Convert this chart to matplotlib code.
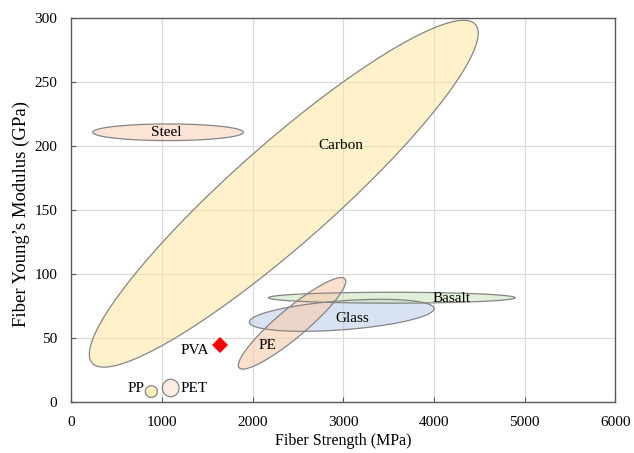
import numpy as np
import matplotlib.pyplot as plt
from matplotlib.patches import Polygon

plt.rcParams['font.family'] = ['Liberation Serif', 'DejaVu Serif']

# ---- data ----
materials     = ["Carbon", "Steel", "Glass", "Basalt", "PE", "PP", "PET"]
strength_min  = [200, 237, 1964, 2174, 1843, 817, 1005]      # MPa
strength_max  = [4487, 1898, 4001, 4895, 3027, 950, 1189]
modulus_min   = [27, 204, 55, 77, 25.5, 3.4, 3.9]            # GPa
modulus_max   = [298, 217, 80, 85.5, 97, 12.5, 17.5]
correlation   = [0.925, 0.0, 0.42, 0.0, 0.915, 0.0, 0.0]

label_x = [2976, 1053, 3097, 4197, 2160, 716, 1357]
label_y = [200.5, 210, 65.4, 81, 44.3, 10, 10.7]

pva_strength = [1641]
pva_modulus = [44.5]
pva_label_xy = (1357, 40.4)

x_ticks = [0, 1000, 2000, 3000, 4000, 5000, 6000]
y_ticks = [0, 50, 100, 150, 200, 250, 300]

# ---- styles ----
face_colors = ['#FFE699', '#F8CBAD', '#B4C7E7', '#C5E0B4', '#F8CBAD', '#FFE699', '#F8CBAD']
face_alpha  = [0.5, 0.5, 0.5, 0.5, 0.6, 0.6, 0.35]
edge_color = '#858585'

fig = plt.figure(figsize=(6.34, 4.53), dpi=100)
ax = fig.add_axes([0.1123, 0.1132, 0.9707 - 0.1123, 0.9609 - 0.1132])
ax.set_xlim(0, 6000)
ax.set_ylim(0, 300)

t = np.linspace(0, 2 * np.pi, 400)
for i, name in enumerate(materials):
    cx = (strength_min[i] + strength_max[i]) / 2
    cy = (modulus_min[i] + modulus_max[i]) / 2
    hx = (strength_max[i] - strength_min[i]) / 2
    hy = (modulus_max[i] - modulus_min[i]) / 2
    phi = np.arccos(correlation[i])
    xs = cx + hx * np.cos(t)
    ys = cy + hy * np.cos(t - phi)
    ax.add_patch(Polygon(np.column_stack([xs, ys]), closed=True,
                         facecolor=face_colors[i], alpha=face_alpha[i],
                         edgecolor='none', zorder=2))
    ax.add_patch(Polygon(np.column_stack([xs, ys]), closed=True,
                         facecolor='none', edgecolor=edge_color,
                         linewidth=0.9, zorder=3))
    ax.text(label_x[i], label_y[i], name, ha='center', va='center',
            fontsize=11, zorder=5)

ax.plot(pva_strength, pva_modulus, linestyle='none', marker='D',
        markersize=8.5, color='#FF0000', markeredgewidth=0, zorder=4)
ax.text(pva_label_xy[0], pva_label_xy[1], 'PVA', ha='center', va='center',
        fontsize=11, zorder=5)

ax.set_xticks(x_ticks)
ax.set_yticks(y_ticks)
ax.tick_params(direction='in', length=3.5, width=0.8, color='#595959',
               labelsize=11)
ax.tick_params(axis='x', pad=10)
ax.tick_params(axis='y', pad=10)
ax.grid(True, color='#D9D9D9', linewidth=0.8, zorder=0)
ax.set_axisbelow(True)
for s in ax.spines.values():
    s.set_color('#595959')
    s.set_linewidth(1.0)

ax.set_xlabel('Fiber Strength (MPa)', fontsize=11.5, labelpad=3)
ax.set_ylabel('Fiber Young\u2019s Modulus (GPa)', fontsize=13.5)
ax.yaxis.set_label_coords(-0.076, 0.488)

fig.savefig('out.png', dpi=100)
